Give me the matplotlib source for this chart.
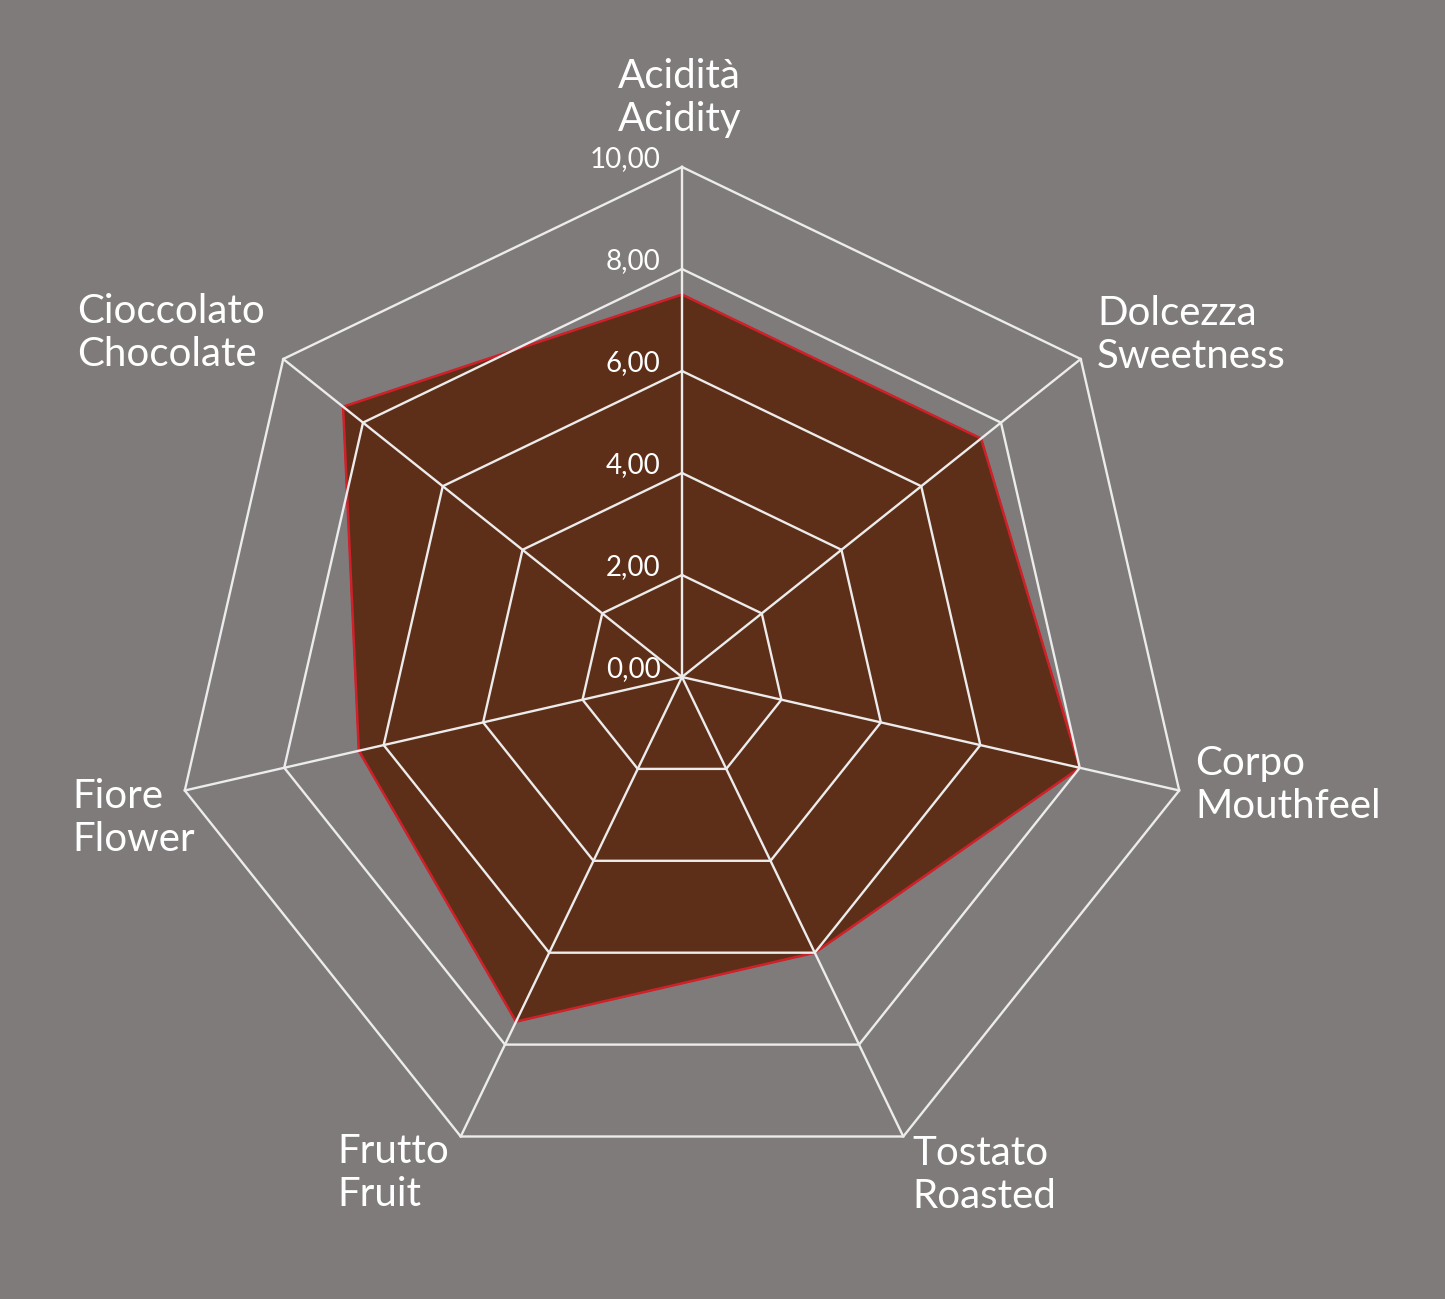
import numpy as np
import matplotlib
matplotlib.use("Agg")
import matplotlib.pyplot as plt

# =========================================================
# DATA
# =========================================================

labels_it = ["Acidità", "Dolcezza", "Corpo", "Tostato", "Frutto", "Fiore", "Cioccolato"]
labels_en = ["Acidity", "Sweetness", "Mouthfeel", "Roasted", "Fruit", "Flower", "Chocolate"]
values = [7.5, 7.5, 8.0, 6.0, 7.5, 6.5, 8.5]
ring_levels = [0, 2, 4, 6, 8, 10]
ring_labels = ["0,00", "2,00", "4,00", "6,00", "8,00", "10,00"]

# =========================================================
# STYLE
# =========================================================

BG = "#7f7b7a"
FILL = "#5e2f18"
EDGE = "#d0202a"
GRID = "#ececec"
TEXT = "#ffffff"

plt.rcParams["font.family"] = ["Lato", "DejaVu Sans"]

W, H = 1445, 1299
CX, CY = 682, 677       # centre in pixels
PX = 51.0               # pixels per unit

fig = plt.figure(figsize=(W / 100, H / 100), dpi=100, facecolor=BG)
ax = fig.add_axes([0, 0, 1, 1])
ax.set_facecolor(BG)
ax.set_xlim(-CX / PX, (W - CX) / PX)
ax.set_ylim(-(H - CY) / PX, CY / PX)
ax.set_aspect("equal")
ax.axis("off")

n = len(values)
angles = np.pi / 2 - np.arange(n) * 2 * np.pi / n
ux, uy = np.cos(angles), np.sin(angles)

# filled data polygon
vx = np.array(values) * ux
vy = np.array(values) * uy
ax.fill(np.append(vx, vx[0]), np.append(vy, vy[0]), color=FILL, zorder=1)
ax.plot(np.append(vx, vx[0]), np.append(vy, vy[0]), color=EDGE, lw=1.8, zorder=2)

# grid rings and spokes
for lvl in ring_levels[1:]:
    gx = lvl * ux
    gy = lvl * uy
    ax.plot(np.append(gx, gx[0]), np.append(gy, gy[0]), color=GRID, lw=1.7, zorder=3)
for i in range(n):
    ax.plot([0, 10 * ux[i]], [0, 10 * uy[i]], color=GRID, lw=1.7, zorder=3)

# ring value labels
for lvl, lab in zip(ring_levels, ring_labels):
    ax.text(-0.42, lvl + 0.16, lab, ha="right", va="center",
            fontsize=20, color=TEXT, zorder=4)

# category labels (pixel anchors: left edge, vertical centre)
label_pos = [
    (618, 98),
    (1097, 335),
    (1195, 785),
    (912, 1175),
    (337, 1173),
    (72, 818),
    (77, 333),
]
for (px, py), it, en in zip(label_pos, labels_it, labels_en):
    ax.text((px - CX) / PX, (CY - py) / PX, f"{it}\n{en}",
            ha="left", va="center", multialignment="left",
            fontsize=29, color=TEXT, linespacing=1.17, zorder=4)

fig.savefig("out.png", dpi=100, facecolor=BG)
